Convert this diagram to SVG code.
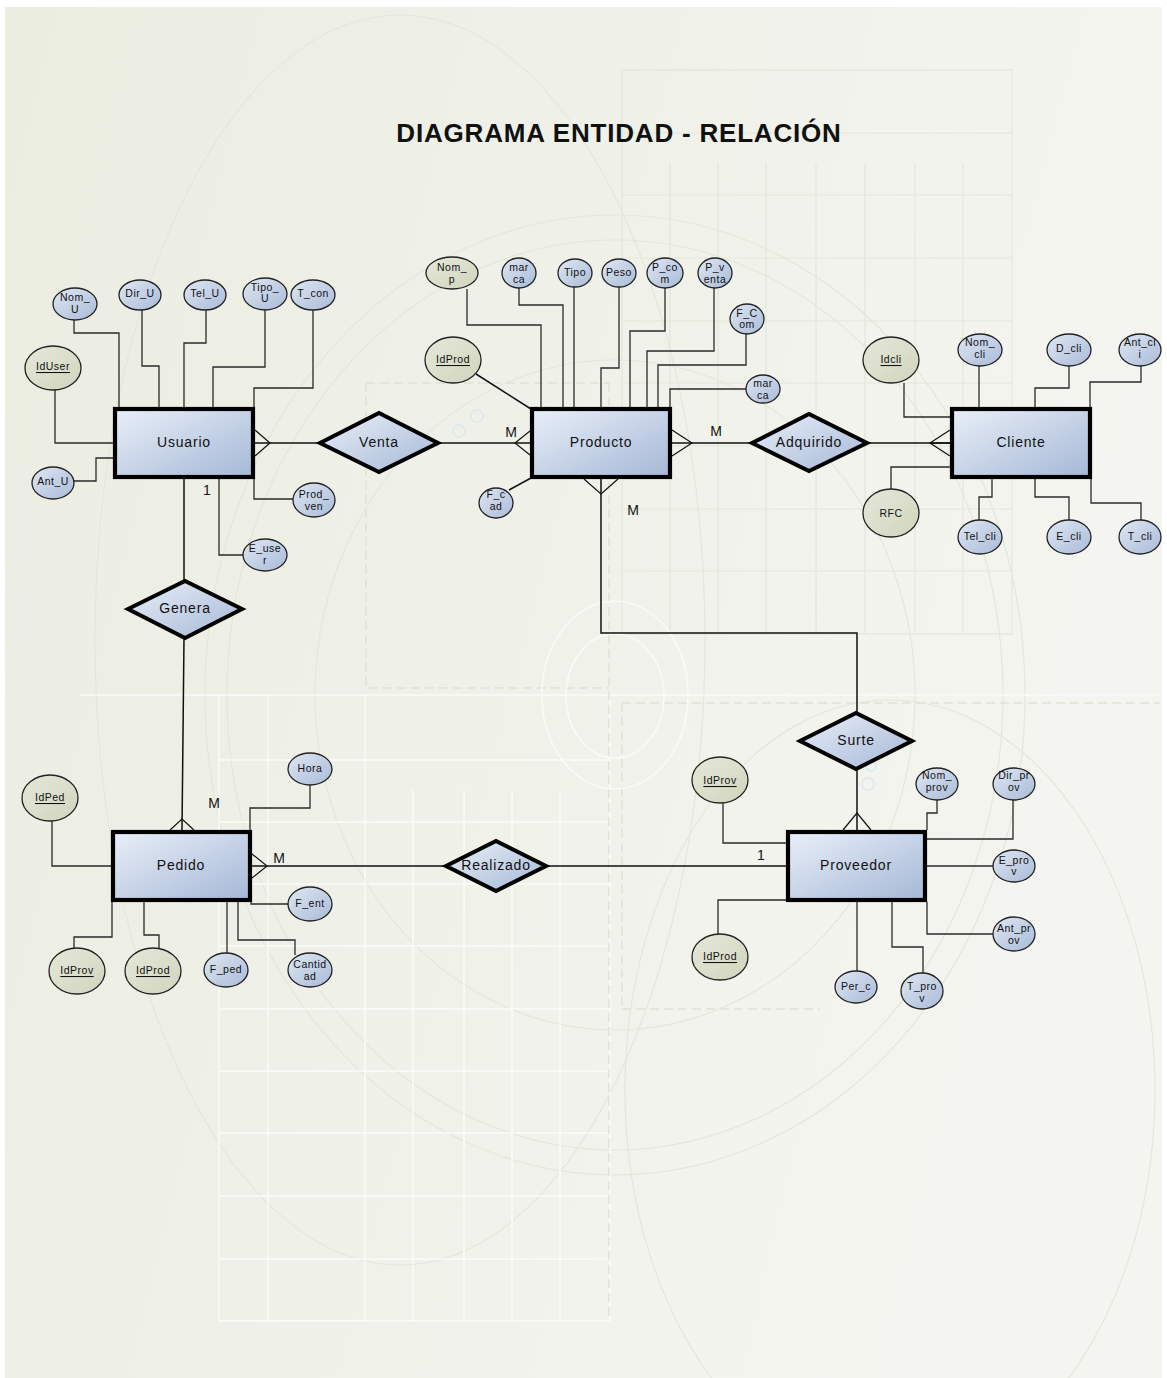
<svg xmlns="http://www.w3.org/2000/svg" width="1167" height="1378" viewBox="0 0 1167 1378">
  <defs>
    <linearGradient id="bg" x1="0" y1="0" x2="1" y2="0.3">
      <stop offset="0" stop-color="#ebede1"/>
      <stop offset="1" stop-color="#f4f5f0"/>
    </linearGradient>
    <linearGradient id="blueFill" x1="0" y1="0" x2="1" y2="1">
      <stop offset="0" stop-color="#e9eff8"/>
      <stop offset="1" stop-color="#a5b8d6"/>
    </linearGradient>
    <linearGradient id="attrFill" x1="0" y1="0" x2="1" y2="1">
      <stop offset="0" stop-color="#dfe7f3"/>
      <stop offset="1" stop-color="#a9bbd8"/>
    </linearGradient>
    <linearGradient id="keyFill" x1="0" y1="0" x2="1" y2="1">
      <stop offset="0" stop-color="#e6e8d9"/>
      <stop offset="1" stop-color="#d0d5bd"/>
    </linearGradient>
    <style>
      .faint { fill: none; stroke: #e2e8d9; stroke-width: 1.2; }
      .whiteln { fill: none; stroke: #fafbf7; stroke-width: 1.6; }
      .dash { fill: none; stroke: #dde4d3; stroke-width: 1.5; stroke-dasharray: 9 5; }
      .bubble { fill: none; stroke: #d9e9ef; stroke-width: 1.5; }
      .ent { fill: url(#blueFill); stroke: #000; stroke-width: 4.2; }
      .rel { fill: url(#blueFill); stroke: #000; stroke-width: 4; stroke-linejoin: miter; }
      .att { fill: url(#attrFill); stroke: #222; stroke-width: 1.3; }
      .key { fill: url(#keyFill); stroke: #222; stroke-width: 1.3; }
      .lbl { font-family: "Liberation Sans", Arial, sans-serif; font-size: 14px; letter-spacing: 0.8px; fill: #111; text-anchor: middle; dominant-baseline: central; }
      .at { font-family: "Liberation Sans", Arial, sans-serif; font-size: 10.5px; letter-spacing: 0.5px; fill: #111; text-anchor: middle; dominant-baseline: central; }
      .u { text-decoration: underline; }
      .card { font-family: "Liberation Sans", Arial, sans-serif; font-size: 14px; fill: #111; text-anchor: middle; dominant-baseline: central; }
      .title { font-family: "Liberation Sans", Arial, sans-serif; font-size: 26px; font-weight: bold; letter-spacing: 0.8px; fill: #111; text-anchor: middle; }
      .wire { fill: none; stroke: #2a2a2a; stroke-width: 1.3; }
      .link { fill: none; stroke: #111; stroke-width: 1.5; }
      .crow { fill: none; stroke: #111; stroke-width: 1.2; }
    </style>
  </defs>

  <!-- page backdrop -->
  <rect width="1167" height="1378" fill="#ffffff"/>
  <g id="backdrop">
    <rect x="5" y="7" width="1157" height="1371" fill="url(#bg)"/>
    <!-- large faint ellipses -->
    <ellipse class="faint" cx="400" cy="640" rx="305" ry="625"/>
    <ellipse class="faint" cx="615" cy="695" rx="410" ry="480"/>
    <ellipse class="faint" cx="615" cy="695" rx="388" ry="455"/>
    <ellipse class="faint" cx="615" cy="695" rx="300" ry="335"/>
    <ellipse class="faint" cx="890" cy="1090" rx="265" ry="390"/>
    <!-- upper right grid -->
    <g class="faint">
      <rect x="622" y="70" width="390" height="564"/>
      <path d="M622 133H1012M622 195H1012M622 258H1012M622 321H1012M622 383H1012M622 446H1012M622 509H1012M622 571H1012"/>
      <path d="M670 163V634M718 163V634M766 163V634M816 163V634M865 163V634M915 163V634M963 163V634"/>
    </g>
    <!-- lower left grid -->
    <g class="whiteln">
      <path d="M80 695H1160"/>
      <path d="M219 695V1321M268 695V1321M365 695V1321M413 790V1321M464 790V1321M512 790V1321M560 790V1321M610 695V1321"/>
      <path d="M219 760H610M219 822H610M219 884H610M219 946H610M219 1009H610M219 1071H610M219 1133H610M219 1196H610M219 1259H610M219 1321H610"/>
    </g>
    <!-- dashed guides -->
    <path class="dash" d="M366 383V688H609M366 383H609M609 383V1321M622 703V1009M622 703H1160M622 1009H820"/>
    <!-- concentric white rings -->
    <ellipse class="whiteln" cx="615" cy="695" rx="73" ry="94"/>
    <ellipse class="whiteln" cx="615" cy="696" rx="49" ry="62"/>
    <!-- small bubbles -->
    <circle class="bubble" cx="459" cy="431" r="6"/>
    <circle class="bubble" cx="477" cy="416" r="6"/>
    <circle class="bubble" cx="871" cy="766" r="5"/>
    <circle class="bubble" cx="868" cy="784" r="6"/>
  </g>

  <text class="title" x="619" y="142">DIAGRAMA ENTIDAD - RELACIÓN</text>

  <!-- connectors -->
  <g id="connectors">
    <!-- Usuario attributes -->
    <polyline class="wire" points="74,320 74,333 119,333 119,407"/>
    <polyline class="wire" points="142,310 142,366 159,366 159,407"/>
    <polyline class="wire" points="206,310 206,343 184,343 184,407"/>
    <polyline class="wire" points="265,310 265,367 213,367 213,407"/>
    <polyline class="wire" points="313,310 313,388 254,388 254,407"/>
    <polyline class="wire" points="55,390 55,443 113,443"/>
    <polyline class="wire" points="74,481 96,481 96,458 113,458"/>
    <polyline class="wire" points="254,479 254,499 293,499"/>
    <polyline class="wire" points="219,479 219,555 243,555"/>
    <!-- Producto attributes -->
    <polyline class="wire" points="467,289 467,325 541,325 541,407"/>
    <polyline class="wire" points="519,288 519,305 563,305 563,407"/>
    <polyline class="wire" points="574,287 574,407"/>
    <polyline class="wire" points="619,287 619,368 601,368 601,407"/>
    <polyline class="wire" points="665,288 665,331 630,331 630,407"/>
    <polyline class="wire" points="714,288 714,351 647,351 647,407"/>
    <polyline class="wire" points="746,334 746,365 658,365 658,407"/>
    <polyline class="wire" points="746,389 670,389 670,407"/>
    <polyline class="link" points="476,374 531,409"/>
    <polyline class="link" points="509,490 531,478"/>
    <!-- Cliente attributes -->
    <polyline class="wire" points="979,366 979,407"/>
    <polyline class="wire" points="1069,366 1069,388 1035,388 1035,407"/>
    <polyline class="wire" points="1141,366 1141,382 1090,382 1090,407"/>
    <polyline class="wire" points="904,383 904,417 950,417"/>
    <polyline class="wire" points="891,489 891,467 950,467"/>
    <polyline class="wire" points="979,520 979,497 992,497 992,479"/>
    <polyline class="wire" points="1069,520 1069,497 1035,497 1035,479"/>
    <polyline class="wire" points="1141,520 1141,503 1091,503 1091,479"/>
    <!-- Pedido attributes -->
    <polyline class="wire" points="52,821 52,866 111,866"/>
    <polyline class="wire" points="310,785 310,808 250,808 250,830"/>
    <polyline class="wire" points="251,902 251,904 288,904"/>
    <polyline class="wire" points="238,902 238,940 295,940 295,955"/>
    <polyline class="wire" points="227,902 227,953"/>
    <polyline class="wire" points="144,902 144,935 159,935 159,948"/>
    <polyline class="wire" points="112,902 112,937 74,937 74,948"/>
    <!-- Proveedor attributes -->
    <polyline class="wire" points="723,803 723,843 786,843"/>
    <polyline class="wire" points="937,800 937,813 927,813 927,830"/>
    <polyline class="wire" points="1013,800 1013,839 927,839"/>
    <polyline class="wire" points="927,866 993,866"/>
    <polyline class="wire" points="927,902 927,934 993,934"/>
    <polyline class="wire" points="892,902 892,947 923,947 923,973"/>
    <polyline class="wire" points="857,902 857,971"/>
    <polyline class="wire" points="786,900 718,900 718,934"/>

    <!-- relationships -->
    <polyline class="link" points="255,443 320,443"/>
    <polyline class="crow" points="255,430 270,443 255,456"/>
    <polyline class="link" points="438,443 530,443"/>
    <polyline class="crow" points="530,431 515,443 530,455"/>
    <polyline class="link" points="672,443 752,443"/>
    <polyline class="crow" points="672,430 692,443 672,456"/>
    <polyline class="link" points="867,443 950,443"/>
    <polyline class="link" points="930,443 950,443" stroke-width="3"/>
    <polyline class="crow" points="950,430 930,443 950,456"/>
    <polyline class="link" points="184,479 184,581"/>
    <polyline class="link" points="184,638 182,830"/>
    <polyline class="crow" points="170,830 182,819 194,830"/>
    <polyline class="link" points="252,866 446,866"/>
    <polyline class="crow" points="252,854 267,866 252,878"/>
    <polyline class="link" points="546,866 786,866"/>
    <polyline class="link" points="601,479 601,633 857,633 857,713"/>
    <polyline class="crow" points="584,479 601,494 618,479"/>
    <polyline class="link" points="857,769 857,830"/>
    <polyline class="crow" points="843,830 857,813 871,830"/>

    <!-- cardinalities -->
    <text class="card" x="207" y="490">1</text>
    <text class="card" x="511" y="432">M</text>
    <text class="card" x="716" y="431">M</text>
    <text class="card" x="633" y="510">M</text>
    <text class="card" x="214" y="803">M</text>
    <text class="card" x="279" y="858">M</text>
    <text class="card" x="761" y="855">1</text>
  </g>

  <!-- entities -->
  <g id="usuario"><rect class="ent" x="115" y="409" width="138" height="68"/><text class="lbl" x="184" y="442">Usuario</text></g>
  <g id="producto"><rect class="ent" x="532" y="409" width="138" height="68"/><text class="lbl" x="601" y="442">Producto</text></g>
  <g id="cliente"><rect class="ent" x="952" y="409" width="138" height="68"/><text class="lbl" x="1021" y="442">Cliente</text></g>
  <g id="pedido"><rect class="ent" x="113" y="832" width="137" height="68"/><text class="lbl" x="181" y="865">Pedido</text></g>
  <g id="proveedor"><rect class="ent" x="788" y="832" width="137" height="68"/><text class="lbl" x="856" y="865">Proveedor</text></g>

  <!-- relationships -->
  <g id="venta"><polygon class="rel" points="320,443 379,413 438,443 379,472"/><text class="lbl" x="379" y="442">Venta</text></g>
  <g id="adquirido"><polygon class="rel" points="752,443 809,414 867,443 809,471"/><text class="lbl" x="809" y="442">Adquirido</text></g>
  <g id="genera"><polygon class="rel" points="128,609 185,581 242,609 185,638"/><text class="lbl" x="185" y="608">Genera</text></g>
  <g id="realizado"><polygon class="rel" points="446,866 496,841 546,866 496,891"/><text class="lbl" x="496" y="865">Realizado</text></g>
  <g id="surte"><polygon class="rel" points="800,741 856,713 912,741 856,769"/><text class="lbl" x="856" y="740">Surte</text></g>

  <!-- Usuario attributes -->
  <g id="a-nom-u"><ellipse class="att" cx="75" cy="304" rx="22" ry="16"/><text class="at" x="75" y="297">Nom_</text><text class="at" x="75" y="309">U</text></g>
  <g id="a-dir-u"><ellipse class="att" cx="140" cy="295" rx="21" ry="15"/><text class="at" x="140" y="293">Dir_U</text></g>
  <g id="a-tel-u"><ellipse class="att" cx="205" cy="295" rx="21" ry="15"/><text class="at" x="205" y="293">Tel_U</text></g>
  <g id="a-tipo-u"><ellipse class="att" cx="265" cy="294" rx="22" ry="16"/><text class="at" x="265" y="287">Tipo_</text><text class="at" x="265" y="298">U</text></g>
  <g id="a-t-con"><ellipse class="att" cx="313" cy="295" rx="22" ry="15"/><text class="at" x="313" y="293">T_con</text></g>
  <g id="a-iduser"><ellipse class="key" cx="53" cy="368" rx="28" ry="22"/><text class="at u" x="53" y="366">IdUser</text></g>
  <g id="a-ant-u"><ellipse class="att" cx="53" cy="483" rx="21" ry="16"/><text class="at" x="53" y="481">Ant_U</text></g>
  <g id="a-prod-ven"><ellipse class="att" cx="314" cy="500" rx="21" ry="17"/><text class="at" x="314" y="494">Prod_</text><text class="at" x="314" y="506">ven</text></g>
  <g id="a-e-user"><ellipse class="att" cx="265" cy="555" rx="22" ry="16"/><text class="at" x="265" y="548">E_use</text><text class="at" x="265" y="560">r</text></g>

  <!-- Producto attributes -->
  <g id="a-nom-p"><ellipse class="key" cx="452" cy="273" rx="26" ry="16"/><text class="at" x="452" y="267">Nom_</text><text class="at" x="452" y="279">p</text></g>
  <g id="a-marca"><ellipse class="att" cx="519" cy="273" rx="17" ry="15"/><text class="at" x="519" y="267">mar</text><text class="at" x="519" y="279">ca</text></g>
  <g id="a-tipo"><ellipse class="att" cx="575" cy="273" rx="17" ry="14"/><text class="at" x="575" y="272">Tipo</text></g>
  <g id="a-peso"><ellipse class="att" cx="619" cy="273" rx="17" ry="14"/><text class="at" x="619" y="272">Peso</text></g>
  <g id="a-p-com"><ellipse class="att" cx="665" cy="273" rx="18" ry="15"/><text class="at" x="665" y="267">P_co</text><text class="at" x="665" y="279">m</text></g>
  <g id="a-p-venta"><ellipse class="att" cx="715" cy="273" rx="17" ry="15"/><text class="at" x="715" y="267">P_v</text><text class="at" x="715" y="279">enta</text></g>
  <g id="a-f-com"><ellipse class="att" cx="747" cy="319" rx="17" ry="15"/><text class="at" x="747" y="313">F_C</text><text class="at" x="747" y="324">om</text></g>
  <g id="a-marca-2"><ellipse class="att" cx="763" cy="389" rx="17" ry="14"/><text class="at" x="763" y="383">mar</text><text class="at" x="763" y="395">ca</text></g>
  <g id="a-idprod"><ellipse class="key" cx="453" cy="360" rx="28" ry="23"/><text class="at u" x="453" y="359">IdProd</text></g>
  <g id="a-f-cad"><ellipse class="att" cx="496" cy="503" rx="17" ry="15"/><text class="at" x="496" y="494">F_c</text><text class="at" x="496" y="506">ad</text></g>

  <!-- Cliente attributes -->
  <g id="a-idcli"><ellipse class="key" cx="891" cy="360" rx="28" ry="23"/><text class="at u" x="891" y="359">Idcli</text></g>
  <g id="a-nom-cli"><ellipse class="att" cx="980" cy="350" rx="22" ry="16"/><text class="at" x="980" y="342">Nom_</text><text class="at" x="980" y="354">cli</text></g>
  <g id="a-d-cli"><ellipse class="att" cx="1069" cy="350" rx="22" ry="16"/><text class="at" x="1069" y="348">D_cli</text></g>
  <g id="a-ant-cli"><ellipse class="att" cx="1140" cy="350" rx="21" ry="16"/><text class="at" x="1140" y="342">Ant_cl</text><text class="at" x="1140" y="354">i</text></g>
  <g id="a-rfc"><ellipse class="key" cx="891" cy="513" rx="28" ry="24"/><text class="at" x="891" y="513">RFC</text></g>
  <g id="a-tel-cli"><ellipse class="att" cx="980" cy="537" rx="22" ry="17"/><text class="at" x="980" y="536">Tel_cli</text></g>
  <g id="a-e-cli"><ellipse class="att" cx="1069" cy="537" rx="22" ry="17"/><text class="at" x="1069" y="536">E_cli</text></g>
  <g id="a-t-cli"><ellipse class="att" cx="1140" cy="537" rx="21" ry="17"/><text class="at" x="1140" y="536">T_cli</text></g>

  <!-- Pedido attributes -->
  <g id="a-idped"><ellipse class="key" cx="50" cy="798" rx="28" ry="23"/><text class="at u" x="50" y="797">IdPed</text></g>
  <g id="a-hora"><ellipse class="att" cx="310" cy="769" rx="22" ry="16"/><text class="at" x="310" y="768">Hora</text></g>
  <g id="a-f-ent"><ellipse class="att" cx="310" cy="904" rx="22" ry="17"/><text class="at" x="310" y="903">F_ent</text></g>
  <g id="a-cantidad"><ellipse class="att" cx="310" cy="970" rx="22" ry="17"/><text class="at" x="310" y="964">Cantid</text><text class="at" x="310" y="976">ad</text></g>
  <g id="a-f-ped"><ellipse class="att" cx="226" cy="970" rx="22" ry="17"/><text class="at" x="226" y="969">F_ped</text></g>
  <g id="a-idprov-ped"><ellipse class="key" cx="77" cy="971" rx="28" ry="23"/><text class="at u" x="77" y="970">IdProv</text></g>
  <g id="a-idprod-ped"><ellipse class="key" cx="153" cy="971" rx="28" ry="23"/><text class="at u" x="153" y="970">IdProd</text></g>

  <!-- Proveedor attributes -->
  <g id="a-idprov"><ellipse class="key" cx="720" cy="780" rx="28" ry="23"/><text class="at u" x="720" y="780">IdProv</text></g>
  <g id="a-nom-prov"><ellipse class="att" cx="937" cy="784" rx="21" ry="16"/><text class="at" x="937" y="775">Nom_</text><text class="at" x="937" y="787">prov</text></g>
  <g id="a-dir-prov"><ellipse class="att" cx="1014" cy="784" rx="21" ry="16"/><text class="at" x="1014" y="775">Dir_pr</text><text class="at" x="1014" y="787">ov</text></g>
  <g id="a-e-prov"><ellipse class="att" cx="1014" cy="866" rx="21" ry="16"/><text class="at" x="1014" y="860">E_pro</text><text class="at" x="1014" y="871">v</text></g>
  <g id="a-ant-prov"><ellipse class="att" cx="1014" cy="934" rx="21" ry="17"/><text class="at" x="1014" y="928">Ant_pr</text><text class="at" x="1014" y="940">ov</text></g>
  <g id="a-idprod-prov"><ellipse class="key" cx="720" cy="957" rx="28" ry="23"/><text class="at u" x="720" y="956">IdProd</text></g>
  <g id="a-per-c"><ellipse class="att" cx="856" cy="987" rx="21" ry="16"/><text class="at" x="856" y="986">Per_c</text></g>
  <g id="a-t-prov"><ellipse class="att" cx="922" cy="991" rx="21" ry="18"/><text class="at" x="922" y="986">T_pro</text><text class="at" x="922" y="998">v</text></g>
</svg>
